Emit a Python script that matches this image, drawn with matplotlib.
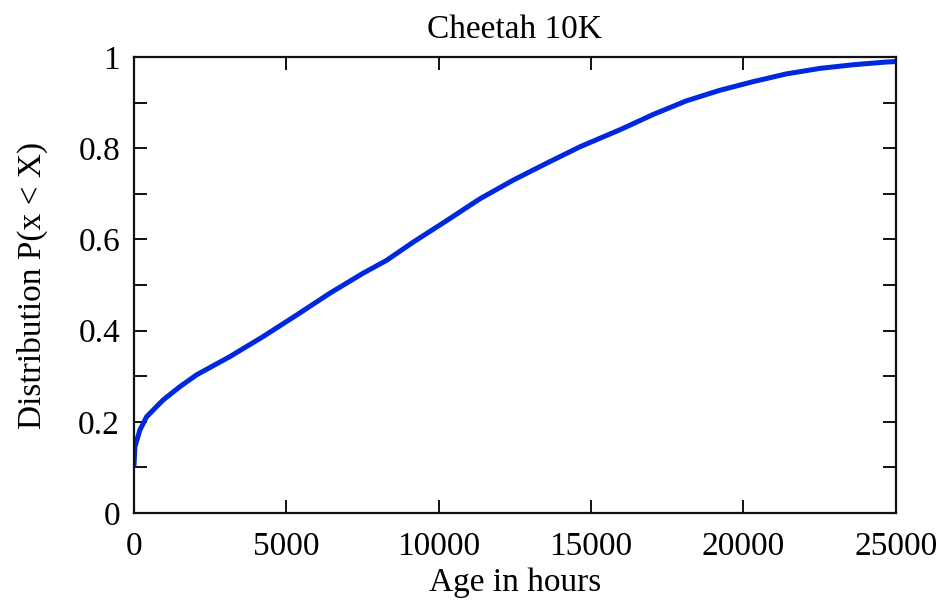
import numpy as np
import matplotlib
matplotlib.use("Agg")
import matplotlib.pyplot as plt
from matplotlib.ticker import MultipleLocator

# ================= DATA =================
age_hours = [0, 33, 197, 416, 961, 1509, 2056, 3150, 4242, 5338, 6430,
             7523, 8290, 9165, 10259, 11352, 12447, 13540, 14633, 16000,
             17038, 18133, 19226, 20320, 21414, 22507, 23600, 24695, 25000]
cdf = [0.100, 0.145, 0.182, 0.211, 0.248, 0.277, 0.303, 0.343, 0.387, 0.434,
       0.482, 0.526, 0.554, 0.594, 0.641, 0.689, 0.730, 0.767, 0.803, 0.842,
       0.874, 0.904, 0.927, 0.946, 0.963, 0.975, 0.983, 0.989, 0.990]

TITLE = "Cheetah 10K"
XLABEL = "Age in hours"
YLABEL = "Distribution P(x < X)"

# ================= STYLE =================
plt.rcParams["font.family"] = ["Liberation Serif", "DejaVu Serif"]
FS = 24

fig = plt.figure(figsize=(9.43, 6.0), dpi=100)
ax = fig.add_axes([0.142, 0.145, 0.808, 0.760])

ax.plot(age_hours, cdf, color="#0028dc", linewidth=3.6, solid_capstyle="butt")

ax.set_xlim(0, 25000)
ax.set_ylim(0, 1)
ax.xaxis.set_major_locator(MultipleLocator(5000))
ax.yaxis.set_minor_locator(MultipleLocator(0.1))
ax.set_yticks([0, 0.2, 0.4, 0.6, 0.8, 1.0])
ax.set_yticklabels(["0", "0.2", "0.4", "0.6", "0.8", "1"])

for s in ax.spines.values():
    s.set_linewidth(1.6)
    s.set_color("#111111")

ax.tick_params(which="both", direction="in", top=True, right=True,
               length=9.5, width=1.4, color="#111111", labelsize=FS)
ax.tick_params(axis="x", pad=13)
ax.tick_params(axis="y", pad=10)

ax.set_title(TITLE, fontsize=FS, pad=14)
ax.set_xlabel(XLABEL, fontsize=FS, labelpad=4)
ax.set_ylabel(YLABEL, fontsize=FS, labelpad=22)

fig.savefig("out.png", dpi=100)
